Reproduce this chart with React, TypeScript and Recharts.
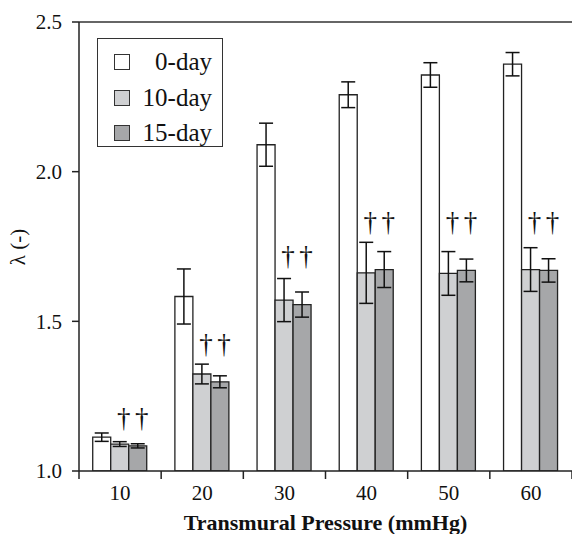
import React from 'react';
import {
  BarChart,
  Bar,
  XAxis,
  YAxis,
  ErrorBar,
  LabelList,
  ReferenceLine,
} from 'recharts';

// transmural pressure categories (mmHg)
const pressures = ['10', '20', '30', '40', '50', '60'];

// stretch ratio lambda, mean and error per group
const day0 = [1.113, 1.583, 2.09, 2.257, 2.323, 2.359];
const day0Err = [0.014, 0.092, 0.072, 0.043, 0.041, 0.039];
const day10 = [1.09, 1.324, 1.571, 1.662, 1.66, 1.673];
const day10Err = [0.008, 0.033, 0.072, 0.102, 0.073, 0.073];
const day15 = [1.084, 1.298, 1.556, 1.673, 1.67, 1.67];
const day15Err = [0.007, 0.02, 0.042, 0.06, 0.038, 0.039];

// level (lambda) where the dagger marks sit, per group
const daggerLevel = [1.137, 1.383, 1.677, 1.793, 1.793, 1.793];

const yTicks = [1.0, 1.5, 2.0, 2.5];

const data = pressures.map((p, i) => ({
  p,
  d0: day0[i],
  e0: day0Err[i],
  d10: day10[i],
  e10: day10Err[i],
  d15: day15[i],
  e15: day15Err[i],
}));

const W = 572;
const H = 534;
const MARGIN = { top: 22, right: 0, bottom: 0, left: 0 };
const Y_AXIS_W = 79;
const X_AXIS_H = 63;
const PLOT_BOTTOM = H - MARGIN.bottom - X_AXIS_H;
const BAND = (W - MARGIN.left - MARGIN.right - Y_AXIS_W) / pressures.length;
const FONT = 'Liberation Serif, Times New Roman, serif';

const WHITE = '#ffffff';
const LIGHT = '#cfd0d2';
const DARK = '#a6a7a9';
const EDGE = '#222';

function XTick(props: any) {
  const { x, index, payload } = props;
  const half = BAND / 2;
  return (
    <g>
      {index === 0 && (
        <line x1={x - half} x2={x - half} y1={PLOT_BOTTOM} y2={PLOT_BOTTOM + 8} stroke={EDGE} strokeWidth={1.5} />
      )}
      <line x1={x + half} x2={x + half} y1={PLOT_BOTTOM} y2={PLOT_BOTTOM + 8} stroke={EDGE} strokeWidth={1.5} />
      <text x={x} y={PLOT_BOTTOM + 29} textAnchor="middle" fontSize={21} fontFamily={FONT} fill="#111">
        {payload.value}
      </text>
    </g>
  );
}

// dagger placed at the group's dagger level, using the bar's own pixel scale
function Dagger(props: any) {
  const { x, y, width, height, index, value } = props;
  const barVal = value as number;
  const base = yTicks[0];
  if (!height || barVal <= base) return null;
  const ppu = height / (barVal - base);
  const bottom = y + height;
  const dy = bottom - (daggerLevel[index] - base) * ppu;
  return (
    <text x={x + width / 2 + 4} y={dy - 3} textAnchor="middle" fontSize={27} fontFamily={FONT} fill="#111">
      †
    </text>
  );
}

const legendItems = [
  { label: '0-day', color: WHITE },
  { label: '10-day', color: LIGHT },
  { label: '15-day', color: DARK },
];

function LegendBox() {
  return (
    <div
      style={{
        position: 'absolute',
        left: 97,
        top: 38,
        border: '1.5px solid #333',
        width: 124,
        height: 107,
        background: '#fff',
        fontFamily: FONT,
        boxSizing: 'content-box',
      }}
    >
      {legendItems.map((it, i) => (
        <div
          key={it.label}
          style={{
            position: 'absolute',
            left: 16,
            top: 11 + i * 35.5,
            width: 98,
            height: 24,
            display: 'flex',
            alignItems: 'center',
          }}
        >
          <span
            style={{
              width: 14,
              height: 14,
              background: it.color,
              border: '1.5px solid #333',
              display: 'inline-block',
              flex: 'none',
            }}
          />
          <span style={{ flex: 1, textAlign: 'right', fontSize: 25, lineHeight: '24px', color: '#111' }}>
            {it.label}
          </span>
        </div>
      ))}
    </div>
  );
}

function YLabel() {
  const cx = 18;
  const cy = 247;
  return (
    <text
      x={cx}
      y={cy}
      transform={`rotate(-90 ${cx} ${cy})`}
      textAnchor="middle"
      dominantBaseline="central"
      fontSize={21}
      fontFamily={FONT}
      fill="#111"
    >
      λ (-)
    </text>
  );
}

function XLabel() {
  return (
    <text
      x={Y_AXIS_W + (W - Y_AXIS_W) / 2}
      y={530}
      textAnchor="middle"
      fontSize={22}
      fontWeight="bold"
      fontFamily={FONT}
      fill="#111"
    >
      Transmural Pressure (mmHg)
    </text>
  );
}

export default function App() {
  return (
    <div style={{ position: 'absolute', left: 0, top: 0, width: W, height: H, background: '#fff' }}>
      <BarChart
        width={W}
        height={H}
        data={data}
        margin={MARGIN}
        barCategoryGap="16.7%"
        barGap={0}
      >
        <XAxis
          dataKey="p"
          height={X_AXIS_H}
          tickLine={false}
          axisLine={{ stroke: EDGE, strokeWidth: 1.5 }}
          tick={<XTick />}
          interval={0}
          label={<XLabel />}
        />
        <YAxis
          width={Y_AXIS_W}
          domain={[1, 2.5]}
          ticks={yTicks}
          allowDataOverflow
          tickFormatter={(v: number) => v.toFixed(1)}
          tickSize={7}
          tickMargin={10}
          tickLine={{ stroke: EDGE, strokeWidth: 1.5 }}
          axisLine={{ stroke: EDGE, strokeWidth: 1.5 }}
          tick={{ fontSize: 21, fontFamily: FONT, fill: '#111' }}
          label={<YLabel />}
        />
        <ReferenceLine y={2.5} stroke="#333" strokeWidth={1.5} />
        <Bar dataKey="d0" name="0-day" fill={WHITE} stroke={EDGE} strokeWidth={1.3} isAnimationActive={false}>
          <ErrorBar dataKey="e0" width={7} stroke="#111" strokeWidth={1.5} />
        </Bar>
        <Bar dataKey="d10" name="10-day" fill={LIGHT} stroke={EDGE} strokeWidth={1.3} isAnimationActive={false}>
          <ErrorBar dataKey="e10" width={7} stroke="#111" strokeWidth={1.5} />
          <LabelList dataKey="d10" content={<Dagger />} />
        </Bar>
        <Bar dataKey="d15" name="15-day" fill={DARK} stroke={EDGE} strokeWidth={1.3} isAnimationActive={false}>
          <ErrorBar dataKey="e15" width={7} stroke="#111" strokeWidth={1.5} />
          <LabelList dataKey="d15" content={<Dagger />} />
        </Bar>
      </BarChart>
      <LegendBox />
    </div>
  );
}
